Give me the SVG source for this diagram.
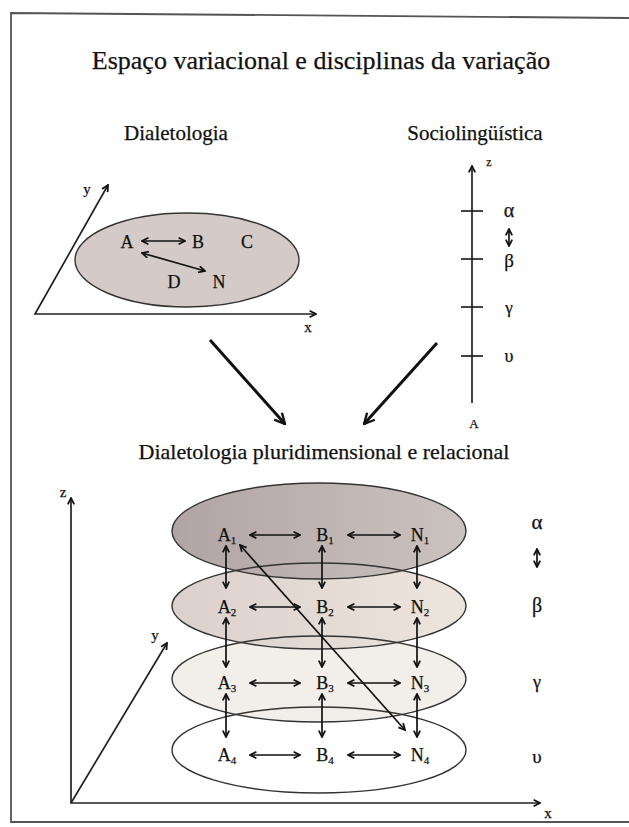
<svg xmlns="http://www.w3.org/2000/svg" width="629" height="827" viewBox="0 0 629 827">
<style>
.t{font-family:"Liberation Serif","Times New Roman",serif;fill:#111;stroke:#111;stroke-width:0.25}
.ttl{font-size:26px}
.sub{font-size:21px}
.lab{font-size:18px;text-anchor:middle}
.sm{font-size:11px}
.ax{stroke:#222;stroke-width:1.7;fill:none}
.ar{stroke:#111;stroke-width:1.7;fill:none}
.ell{stroke:#333;stroke-width:1.4}
</style>
<defs>
<marker id="ah" viewBox="0 0 10 10" refX="9" refY="5" markerWidth="8" markerHeight="8" orient="auto-start-reverse" markerUnits="userSpaceOnUse">
<path d="M1,1 L9,5 L1,9" fill="none" stroke="#111" stroke-width="2.2"/>
</marker>
<marker id="big" viewBox="0 0 10 10" refX="9" refY="5" markerWidth="13" markerHeight="13" orient="auto" markerUnits="userSpaceOnUse">
<path d="M1,1 L9,5 L1,9" fill="none" stroke="#111" stroke-width="1.8"/>
</marker>
<linearGradient id="g1" x1="0" y1="0" x2="1" y2="0">
<stop offset="0" stop-color="#b1a4a5"/><stop offset="1" stop-color="#cbc3bf"/>
</linearGradient>
<linearGradient id="g2" x1="0" y1="0" x2="1" y2="0">
<stop offset="0" stop-color="#dcd0cc"/><stop offset="1" stop-color="#ece5dd"/>
</linearGradient>
</defs>

<!-- frame -->
<path d="M629,18 L11,13 L11,822 L629,822" fill="none" stroke="#555" stroke-width="1.8"/>

<text class="t ttl" x="321" y="69" text-anchor="middle">Espaço variacional e disciplinas da variação</text>
<text class="t sub" x="176" y="140" text-anchor="middle">Dialetologia</text>
<text class="t sub" x="475" y="140" text-anchor="middle">Sociolingüística</text>
<text class="t" font-size="22" x="324" y="459" text-anchor="middle">Dialetologia pluridimensional e relacional</text>

<!-- Dialetologia -->
<g id="dialetologia">
<ellipse class="ell" cx="187" cy="260" rx="112" ry="47" fill="#d4cbc8"/>
<path class="ax" d="M108,185 L35,314 L316,314" marker-start="url(#ah)" marker-end="url(#ah)"/>
<text class="t" font-size="15" x="87" y="194" text-anchor="middle">y</text>
<text class="t" font-size="15" x="308" y="332" text-anchor="middle">x</text>
</g>
<g id="node-A"><text class="t lab" x="127" y="248">A</text></g>
<g id="node-B"><text class="t lab" x="198" y="248">B</text></g>
<g id="node-C"><text class="t lab" x="247" y="248">C</text></g>
<g id="node-D"><text class="t lab" x="174" y="288">D</text></g>
<g id="node-N"><text class="t lab" x="219" y="288">N</text></g>

<!-- Sociolinguistica -->
<g id="sociolinguistica">
<line class="ax" x1="472" y1="403" x2="472" y2="166" marker-end="url(#ah)"/>
<text class="t" font-size="12" x="489" y="166" text-anchor="middle">z</text>
<line class="ax" x1="461" y1="211" x2="483" y2="211"/>
<line class="ax" x1="461" y1="259" x2="483" y2="259"/>
<line class="ax" x1="461" y1="307" x2="483" y2="307"/>
<line class="ax" x1="461" y1="356" x2="483" y2="356"/>
<text class="t" font-size="20" x="509" y="217" text-anchor="middle">α</text>
<line class="ar" x1="509" y1="229" x2="509" y2="246" marker-start="url(#ah)" marker-end="url(#ah)"/>
<text class="t" font-size="19" x="509" y="267" text-anchor="middle">β</text>
<text class="t" font-size="17" x="509" y="313" text-anchor="middle">γ</text>
<text class="t" font-size="18" x="509" y="362" text-anchor="middle">υ</text>
<text class="t" font-size="13" x="474" y="428" text-anchor="middle">A</text>
</g>

<!-- pluridimensional -->
<g id="planes">
<ellipse cx="319" cy="750" rx="147" ry="43" fill="#ffffff"/>
<ellipse cx="319" cy="679" rx="147" ry="43" fill="#f2eee9"/>
<ellipse cx="319" cy="606" rx="147" ry="43" fill="url(#g2)"/>
<ellipse cx="319" cy="531" rx="147" ry="48" fill="url(#g1)"/>
<ellipse class="ell" cx="319" cy="750" rx="147" ry="43" fill="none"/>
<ellipse class="ell" cx="319" cy="679" rx="147" ry="43" fill="none"/>
<ellipse class="ell" cx="319" cy="606" rx="147" ry="43" fill="none"/>
<ellipse class="ell" cx="319" cy="531" rx="147" ry="48" fill="none"/>
</g>
<g id="axes3d">
<path class="ax" d="M71,498 L71,803 L540,803" marker-start="url(#ah)" marker-end="url(#ah)"/>
<line class="ax" x1="71" y1="803" x2="167" y2="643" marker-end="url(#ah)"/>
<text class="t" font-size="15" x="63" y="497" text-anchor="middle">z</text>
<text class="t" font-size="15" x="155" y="640" text-anchor="middle">y</text>
<text class="t" font-size="15" x="548" y="818" text-anchor="middle">x</text>
</g>

<g id="node-A1"><text class="t lab" x="227" y="541">A<tspan class="sm" dy="3">1</tspan></text></g>
<g id="node-B1"><text class="t lab" x="325" y="541">B<tspan class="sm" dy="3">1</tspan></text></g>
<g id="node-N1"><text class="t lab" x="420" y="541">N<tspan class="sm" dy="3">1</tspan></text></g>
<g id="node-A2"><text class="t lab" x="227" y="613">A<tspan class="sm" dy="3">2</tspan></text></g>
<g id="node-B2"><text class="t lab" x="325" y="613">B<tspan class="sm" dy="3">2</tspan></text></g>
<g id="node-N2"><text class="t lab" x="420" y="613">N<tspan class="sm" dy="3">2</tspan></text></g>
<g id="node-A3"><text class="t lab" x="227" y="689">A<tspan class="sm" dy="3">3</tspan></text></g>
<g id="node-B3"><text class="t lab" x="325" y="689">B<tspan class="sm" dy="3">3</tspan></text></g>
<g id="node-N3"><text class="t lab" x="420" y="689">N<tspan class="sm" dy="3">3</tspan></text></g>
<g id="node-A4"><text class="t lab" x="227" y="761">A<tspan class="sm" dy="3">4</tspan></text></g>
<g id="node-B4"><text class="t lab" x="325" y="761">B<tspan class="sm" dy="3">4</tspan></text></g>
<g id="node-N4"><text class="t lab" x="420" y="761">N<tspan class="sm" dy="3">4</tspan></text></g>

<g id="greek">
<text class="t" font-size="21" x="537" y="529" text-anchor="middle">α</text>
<line class="ar" x1="537" y1="549" x2="537" y2="567" marker-start="url(#ah)" marker-end="url(#ah)"/>
<text class="t" font-size="20" x="537" y="612" text-anchor="middle">β</text>
<text class="t" font-size="18" x="537" y="688" text-anchor="middle">γ</text>
<text class="t" font-size="19" x="537" y="763" text-anchor="middle">υ</text>
</g>

<g id="connectors">
<line class="ar" x1="142" y1="241" x2="185" y2="241" marker-start="url(#ah)" marker-end="url(#ah)"/>
<line class="ar" x1="142" y1="253" x2="205" y2="271" marker-start="url(#ah)" marker-end="url(#ah)"/>
<line x1="210" y1="340" x2="285" y2="424" stroke="#111" stroke-width="3" marker-end="url(#big)"/>
<line x1="437" y1="343" x2="364" y2="424" stroke="#111" stroke-width="3" marker-end="url(#big)"/>

<line class="ar" x1="250" y1="535" x2="300" y2="535" marker-start="url(#ah)" marker-end="url(#ah)"/>
<line class="ar" x1="348" y1="535" x2="400" y2="535" marker-start="url(#ah)" marker-end="url(#ah)"/>
<line class="ar" x1="250" y1="607" x2="300" y2="607" marker-start="url(#ah)" marker-end="url(#ah)"/>
<line class="ar" x1="348" y1="607" x2="400" y2="607" marker-start="url(#ah)" marker-end="url(#ah)"/>
<line class="ar" x1="250" y1="683" x2="300" y2="683" marker-start="url(#ah)" marker-end="url(#ah)"/>
<line class="ar" x1="348" y1="683" x2="400" y2="683" marker-start="url(#ah)" marker-end="url(#ah)"/>
<line class="ar" x1="250" y1="755" x2="300" y2="755" marker-start="url(#ah)" marker-end="url(#ah)"/>
<line class="ar" x1="348" y1="755" x2="400" y2="755" marker-start="url(#ah)" marker-end="url(#ah)"/>

<line class="ar" x1="226" y1="546" x2="226" y2="588" marker-start="url(#ah)" marker-end="url(#ah)"/>
<line class="ar" x1="226" y1="618" x2="226" y2="667" marker-start="url(#ah)" marker-end="url(#ah)"/>
<line class="ar" x1="226" y1="694" x2="226" y2="737" marker-start="url(#ah)" marker-end="url(#ah)"/>
<line class="ar" x1="322" y1="546" x2="322" y2="588" marker-start="url(#ah)" marker-end="url(#ah)"/>
<line class="ar" x1="322" y1="618" x2="322" y2="667" marker-start="url(#ah)" marker-end="url(#ah)"/>
<line class="ar" x1="322" y1="694" x2="322" y2="737" marker-start="url(#ah)" marker-end="url(#ah)"/>
<line class="ar" x1="417" y1="546" x2="417" y2="588" marker-start="url(#ah)" marker-end="url(#ah)"/>
<line class="ar" x1="417" y1="618" x2="417" y2="667" marker-start="url(#ah)" marker-end="url(#ah)"/>
<line class="ar" x1="417" y1="694" x2="417" y2="737" marker-start="url(#ah)" marker-end="url(#ah)"/>

<line class="ar" x1="240" y1="545" x2="405" y2="730" marker-start="url(#ah)" marker-end="url(#ah)"/>
</g>
</svg>
